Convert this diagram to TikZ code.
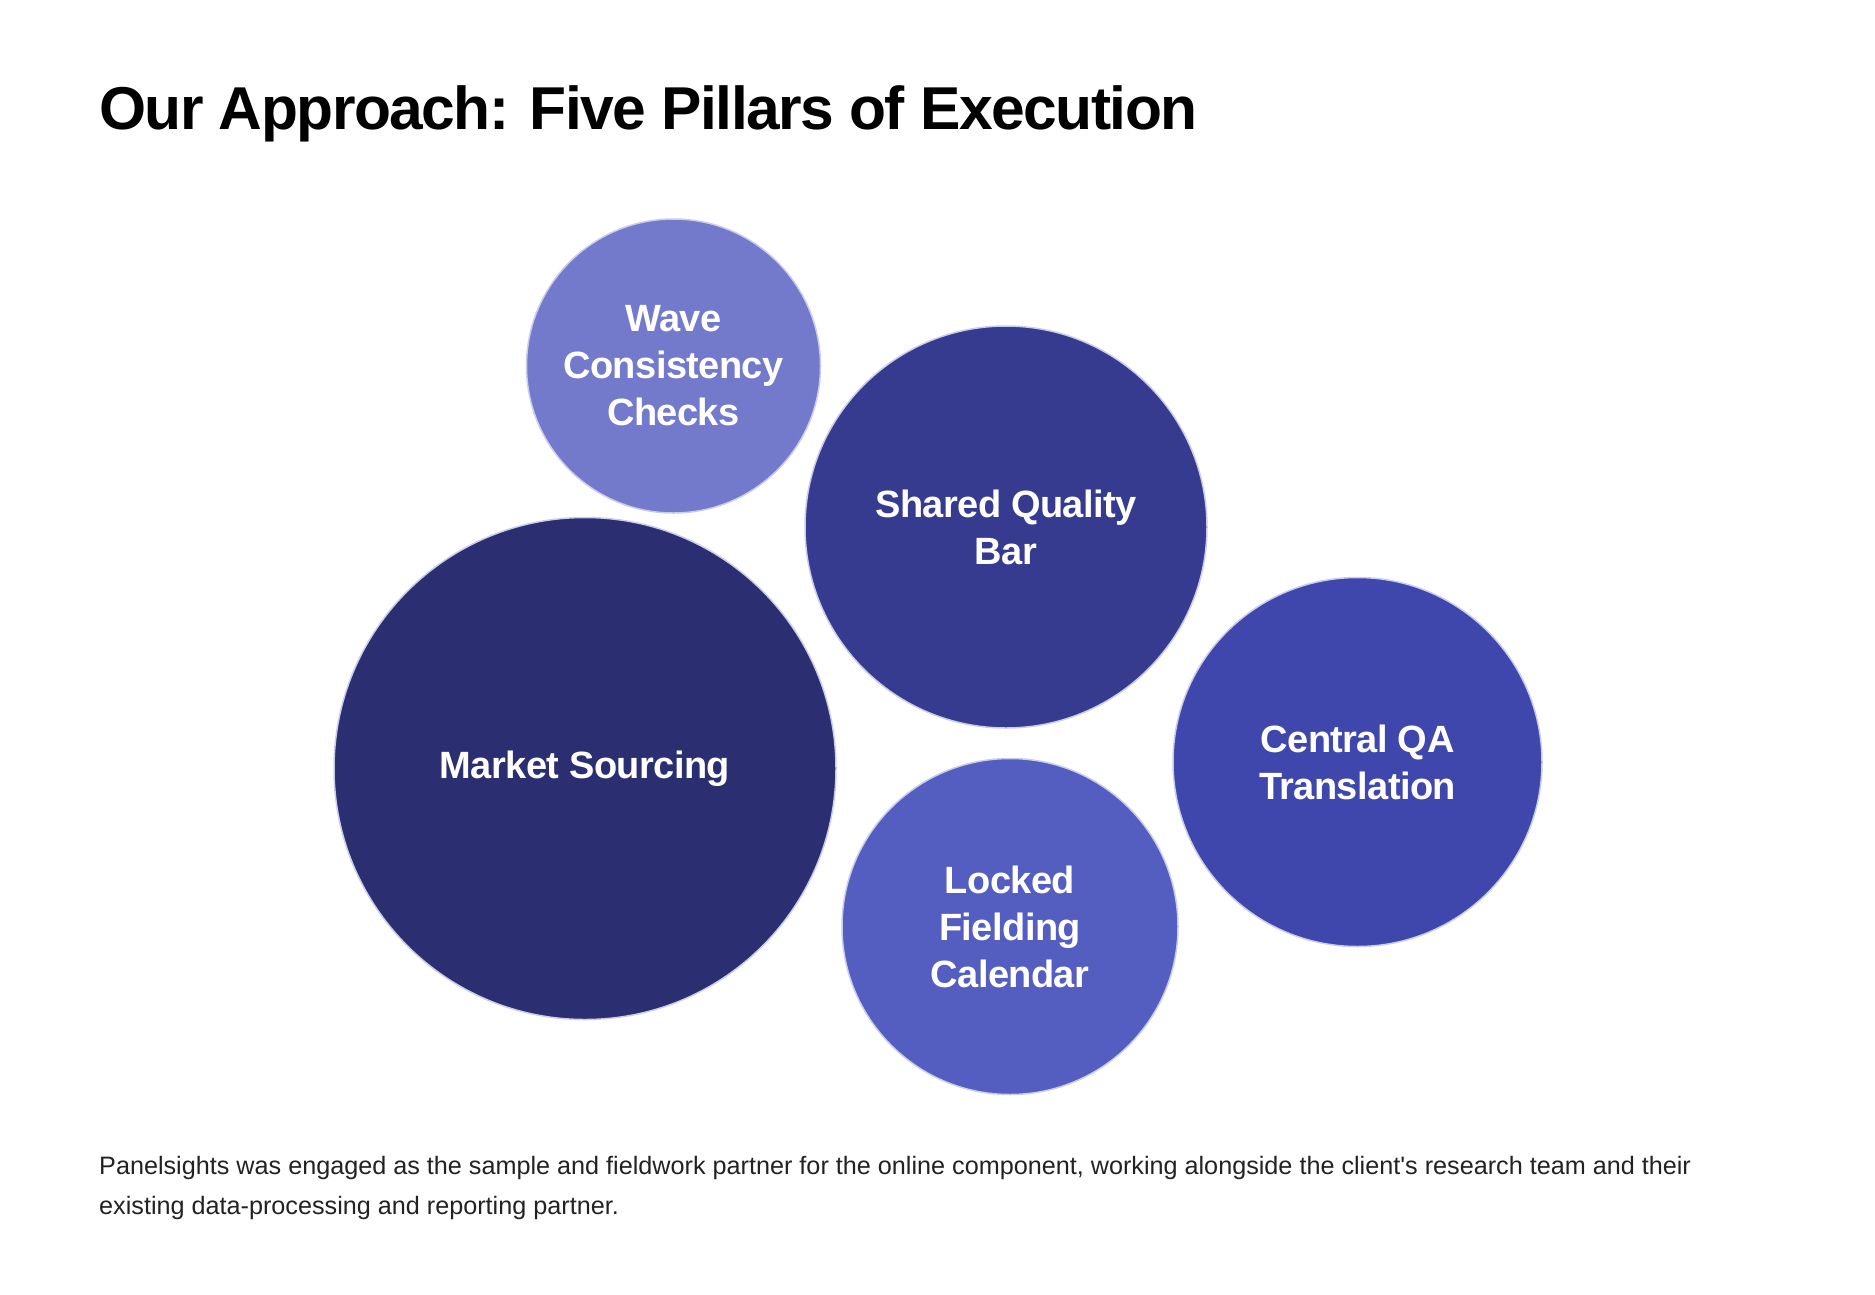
\documentclass[tikz,border=0pt]{standalone}
\usepackage{fontspec}
\setmainfont{Liberation Sans}
\newfontfamily\titlefont[LetterSpace=-2.5]{Liberation Sans}
\newfontfamily\pillarfont[LetterSpace=-1.5]{Liberation Sans}
\usepackage{xcolor}

\definecolor{wavecol}{HTML}{7379CB}
\definecolor{sharedcol}{HTML}{363B8F}
\definecolor{marketcol}{HTML}{2B2F72}
\definecolor{centralcol}{HTML}{4047AC}
\definecolor{lockedcol}{HTML}{545DC0}
\definecolor{rimcol}{HTML}{C9CCEA}
\definecolor{bodytext}{HTML}{222222}

\tikzset{
  pillar/.style={circle, draw=rimcol, line width=1.5pt, inner sep=0pt, text=white, align=center,
                 font=\pillarfont\bfseries\fontsize{38}{47}\selectfont},
}

\begin{document}
\begin{tikzpicture}[x=1pt,y=-1pt]
            \useasboundingbox (0,0) rectangle (1875,1294);

            % Title Node
            \node [anchor=base west, inner sep=0pt, font=\titlefont\bfseries\fontsize{60.5}{70}\selectfont] (title) at (99,129) {Our Approach: Five Pillars of Execution};

            %Shape: Circle [wave]
            \node [pillar, fill=wavecol, minimum size=294pt] (wave) at (673.5,366) {Wave\\Consistency\\Checks};
            %Shape: Circle [shared]
            \node [pillar, fill=sharedcol, minimum size=402pt] (shared) at (1006,527) {Shared Quality\\Bar};
            %Shape: Circle [market]
            \node [pillar, fill=marketcol, minimum size=502pt] (market) at (585,768.5) {Market Sourcing};
            %Shape: Circle [central]
            \node [pillar, fill=centralcol, minimum size=369pt] (central) at (1357.5,762) {Central QA\\Translation};
            %Shape: Circle [locked]
            \node [pillar, fill=lockedcol, minimum size=336pt] (locked) at (1010,926.5) {Locked\\Fielding\\Calendar};

            % Text Node
            \node [anchor=base west, inner sep=0pt, align=left, text=bodytext, font=\fontsize{25.2}{40}\selectfont] (note) at (99,1214) {Panelsights was engaged as the sample and fieldwork partner for the online component, working alongside the client\textquotesingle s research team and their\\existing data-processing and reporting partner.};

\end{tikzpicture}
\end{document}
